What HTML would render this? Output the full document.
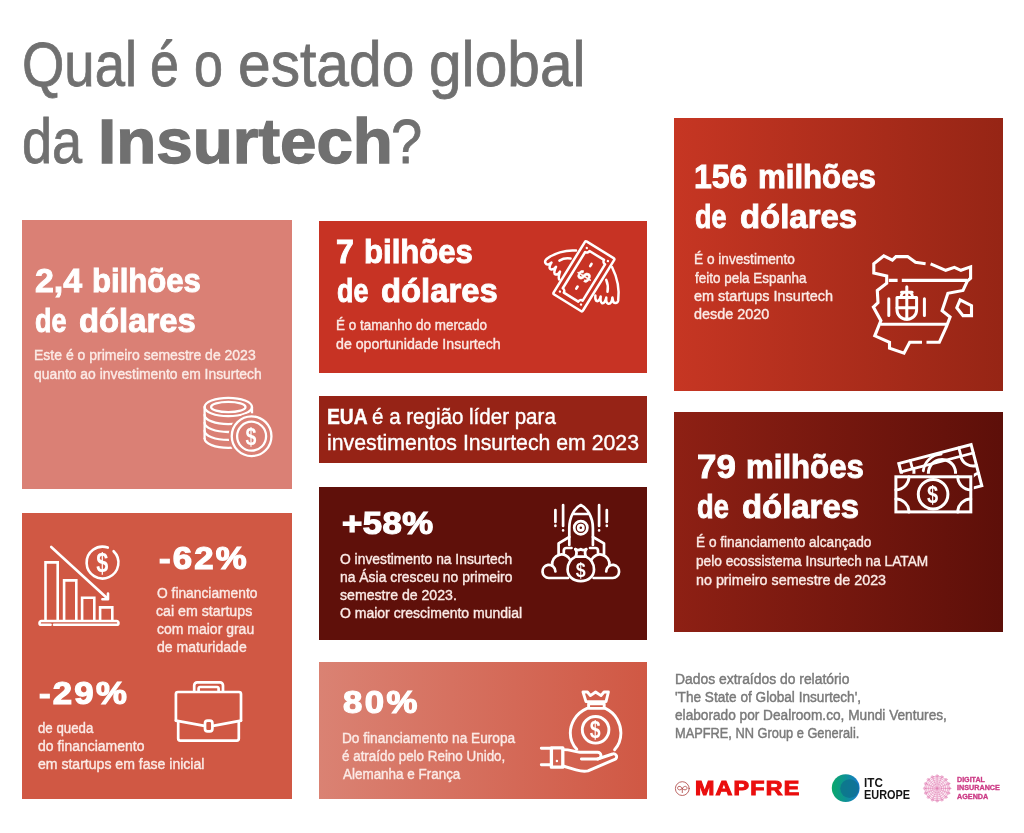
<!DOCTYPE html>
<html lang="pt"><head><meta charset="utf-8"><title>Qual é o estado global da Insurtech?</title>
<style>
html,body{margin:0;padding:0}
body{width:1024px;height:833px;position:relative;overflow:hidden;background:#fff;font-family:"Liberation Sans",sans-serif}
.bx{position:absolute}
.x{position:absolute;white-space:pre;line-height:1;transform-origin:0 0;font-weight:400}
.b{font-weight:700}
.t{color:#707070}
.w{color:#fff;-webkit-text-stroke:0.4px #fff}
.s{color:#fbeae6}
.f{color:#7b7b7b}
.m{color:#ea0e0e;-webkit-text-stroke:1px #ea0e0e}
.k{color:#151515}
.p{color:#cc3a85;-webkit-text-stroke:0.3px #cc3a85}
.h{color:#fff;-webkit-text-stroke:0.9px #fff}
.pc{color:#fff;-webkit-text-stroke:1.2px #fff}
.s{-webkit-text-stroke:0.4px #fbeae6}
.f{-webkit-text-stroke:0.45px #787878}
.t{-webkit-text-stroke:0.8px #707070}
.t.b{-webkit-text-stroke:1.3px #707070}
svg.ic{position:absolute;left:0;top:0}
</style></head><body>
<div class="bx" style="left:21.5px;top:220px;width:270px;height:269px;background:#da8075"></div>
<div class="bx" style="left:318.5px;top:220.5px;width:328.5px;height:152.25px;background:#c73324"></div>
<div class="bx" style="left:674.25px;top:118px;width:328.75px;height:273px;background:linear-gradient(90deg,#c63623,#962515)"></div>
<div class="bx" style="left:318.5px;top:396.25px;width:328.5px;height:66.75px;background:#962316"></div>
<div class="bx" style="left:674.25px;top:412px;width:328.75px;height:220.25px;background:linear-gradient(90deg,#8e2014,#5d0f09)"></div>
<div class="bx" style="left:318.5px;top:486.5px;width:328.5px;height:153.75px;background:#5f100a"></div>
<div class="bx" style="left:21.5px;top:513px;width:270px;height:285.5px;background:#d05844"></div>
<div class="bx" style="left:318.5px;top:662px;width:328.5px;height:137px;background:linear-gradient(90deg,#da8273,#d05844)"></div>
<svg class="ic" width="1024" height="833" viewBox="0 0 1024 833" fill="none" stroke="#fff" stroke-linecap="round" stroke-linejoin="round" font-family="Liberation Sans, sans-serif">
<defs>
<clipPath id="cpCoin"><path clip-rule="evenodd" d="M190 380H300V480H190Z M274.6 436.2A23 23 0 1 0 228.6 436.2A23 23 0 1 0 274.6 436.2Z"/></clipPath>
<clipPath id="cpBill"><path clip-rule="evenodd" d="M880 425H1000V530H880Z M893 473.8H973.8V514.9H893Z"/></clipPath>
<linearGradient id="gITC" x1="0" y1="0" x2="1" y2="0"><stop offset="0" stop-color="#0aa86a"/><stop offset="0.55" stop-color="#0f8f9a"/><stop offset="1" stop-color="#1777cf"/></linearGradient>
</defs>

<!-- coin stack -->
<g stroke-width="2.3">
<g clip-path="url(#cpCoin)">
<ellipse cx="228.3" cy="407" rx="23.7" ry="9.2"/>
<ellipse cx="228.3" cy="407" rx="17.2" ry="5.1"/>
<path d="M204.6 407V438.6M252 407V438.6"/>
<path d="M204.6 414.9A23.7 9.2 0 0 0 252 414.9M204.6 422.8A23.7 9.2 0 0 0 252 422.8M204.6 430.7A23.7 9.2 0 0 0 252 430.7M204.6 438.6A23.7 9.2 0 0 0 252 438.6"/>
</g>
<circle cx="251.6" cy="436.2" r="19.85"/>
<circle cx="251.6" cy="436.2" r="14.5"/>
</g>
<text transform="translate(250.9 444.6) scale(0.8 1)" font-size="24.5" font-weight="700" text-anchor="middle" fill="#fff" stroke="none">$</text>

<!-- flying money -->
<g stroke-width="2.5">
<g transform="translate(583.9 276.3) rotate(31.7)">
<rect x="-17.2" y="-31.1" width="34.4" height="62.2" rx="1.5"/>
<path d="M-8.5 -24.5H8.5A3.2 3.2 0 0 0 11.7 -21.3V21.3A3.2 3.2 0 0 0 8.5 24.5H-8.5A3.2 3.2 0 0 0 -11.7 21.3V-21.3A3.2 3.2 0 0 0 -8.5 -24.5Z"/>
<path d="M0 -14.5V-12M0 12V14.5" stroke-width="2.6"/>
<g fill="#fff" stroke="none"><circle cx="-12.4" cy="-25.6" r="1.2"/><circle cx="12.4" cy="-25.6" r="1.2"/><circle cx="-12.4" cy="25.6" r="1.2"/><circle cx="12.4" cy="25.6" r="1.2"/></g>
<text transform="rotate(-90) translate(0 6.4)" font-size="18.5" font-weight="700" text-anchor="middle" fill="#fff" stroke="#fff" stroke-width="0.4">$</text>
</g>
<path d="M576 250.6C566 249.5 553 253.5 546.3 259.3C543.8 261.8 545.8 265.6 549 264.2L551.5 262.6C549.3 265.6 548.6 269 551.4 269.5C553.5 269.6 555 268.2 556 266.8C554.4 270.5 553.3 274 555.8 274.6C557.8 274.8 559.3 273 560 271.6C559 274.8 558 278 559.2 279.4"/>
<path d="M570.6 258.6C567 258 562.5 258.8 559.4 260.6"/>
<path d="M612 267C617 277 619.5 290 618.2 300.5C617.5 303.8 613.6 304 613 300.8L612.4 297.4C612.2 301 610.8 304.4 608 303.6C606.2 302.8 606 300.4 606.3 297.6C605.6 301 604 304 601.8 303C600.3 302 600.4 299.4 600.7 296.5C600 299.6 598.4 301.8 596.4 300.9C595 299.8 595.2 297.4 595.4 295.4"/>
<path d="M606.2 279.8C607.8 283.5 608.2 288 607.5 291.8"/>
</g>

<!-- spain -->
<g stroke-width="3.1" stroke-linejoin="miter" stroke-linecap="butt">
<path d="M925.6 263.8L915.5 262.3L907.6 256.6H896L892.4 260.2L883.8 255.9L873.8 263.8V273.1L886.7 276V283.2L877.3 290.4L878 302.7L873.4 307L880.9 320.7L874.8 335.8L889.5 342.3V348.1L904 353.1L909.7 342.3H922"/>
<path d="M930.6 263.8L945.7 270.3L954.4 267.4L960.9 270.3L970.6 266.9V278.2L967.3 281.1L963 290.4L947.9 293.3L942.1 310.6L950.1 317.1L946.5 326.5L939.3 342.3H926.5"/>
<path d="M888.8 280.4H897.6M901.8 280.4H967"/>
<path d="M880.4 324.3H947"/>
<path d="M960.1 299.8L971.5 305.6V315.6H963L956.8 307.7Z"/>
</g>
<g stroke-width="3" stroke-linecap="round">
<path d="M888.8 298.8V315.4M924.4 298.8V315.4"/>
<path d="M897 297.4H916.6V310A9.8 9.3 0 0 1 897 310Z"/>
<path d="M906.8 286.8V319.2M897 307.8H916.6M901 297.2C901 290 912.6 290 912.6 297.2M901.5 292.2H912.1"/>
</g>

<!-- bills -->
<g stroke-width="3" stroke-linejoin="miter">
<g clip-path="url(#cpBill)">
<g transform="translate(940.3 474.6) rotate(-14.6)">
<rect x="-37.35" y="-21.25" width="74.7" height="42.5"/>
<path d="M-37.35 -12.6H37.35M-25.5 -21.25V-12.6M24.7 -21.25V-12.6" stroke-width="2.8"/>
<circle cx="2" cy="-1" r="13.6"/>
<path d="M-15.5 -8A19 19 0 0 1 6 -19.6" stroke-width="2.8"/>
<path d="M24.35 -12.6A13 13 0 0 0 37.35 0.4M37.35 8.25A13 13 0 0 0 24.35 21.25M-24.35 -12.6A13 13 0 0 1 -37.35 0.4"/>
</g>
</g>
<rect x="895.9" y="476.8" width="74.9" height="35.1"/>
<circle cx="933.1" cy="494.2" r="14.8"/>
<path d="M908.9 476.8A13 13 0 0 1 895.9 489.8M957.8 476.8A13 13 0 0 0 970.8 489.8M970.8 498.9A13 13 0 0 0 957.8 511.9M895.9 498.9A13 13 0 0 1 908.9 511.9"/>
</g>
<text transform="translate(932.6 502.8) scale(0.82 1)" font-size="24.5" font-weight="700" text-anchor="middle" fill="#fff" stroke="none">$</text>

<!-- rocket -->
<g stroke-width="2.7">
<path d="M569.3 545V528C569.3 517 574.5 508 580.8 505C587.1 508 592.9 517 592.9 528V545"/>
<path d="M573.6 514H588"/>
<circle cx="580.8" cy="527.7" r="6.6"/><circle cx="580.8" cy="527.7" r="2.6"/>
<path d="M569.3 537L558.6 543.4V554.5M592.9 537L604 543.4V554.5"/>
<path d="M563.8 553V550.5A2.6 2.6 0 0 1 566.4 548H571.5M598 553V550.5A2.6 2.6 0 0 0 595.4 548H590"/>
<path d="M555.4 510V522M563.1 505V526M599.1 505V526M606.8 510V522"/>
<path d="M555.4 525.6V525.9M563.1 530.2V530.5M599.1 530.2V530.5M606.8 525.6V525.9" stroke-width="2.6"/>
<!-- clouds -->
<path d="M568 578H548.8A6.6 6.6 0 0 1 548 564.9A6.6 6.6 0 0 1 555.4 571.4"/>
<path d="M552.2 565.3A9.6 9.6 0 0 1 570.5 560.2"/>
<path d="M593.6 578H612.8A6.6 6.6 0 0 0 613.6 564.9A6.6 6.6 0 0 0 606.2 571.4"/>
<path d="M609.4 565.3A9.6 9.6 0 0 0 591.1 560.2"/>
<!-- bag -->
<path d="M575.6 556.6C569.5 559.6 567.6 565.5 567.6 569.5C567.6 576 573 581.2 580.8 581.2C588.6 581.2 594 576 594 569.5C594 565.5 592.1 559.6 586 556.6"/>
<path d="M575.4 549.2C576.5 550.8 577 553.5 575.6 556.6H586C584.6 553.5 585.1 550.8 586.2 549.2"/>
<path d="M575.4 549.2C577 550.4 579 550.4 580.8 549.2C582.6 550.4 584.6 550.4 586.2 549.2"/>
</g>
<text transform="translate(580.6 576.6) scale(0.85 1)" font-size="21" font-weight="700" text-anchor="middle" fill="#fff" stroke="none">$</text>

<!-- hand + bag -->
<g stroke-width="2.9">
<path d="M587 708.4C575 713.6 570.3 724.5 570.3 733C570.3 739.5 572.6 745 576.8 749.2"/>
<path d="M605.4 708.4C616.5 713.6 620.9 724.5 620.9 733C620.9 740 618.5 745.4 614.6 749.8"/>
<rect x="588.6" y="703.8" width="15.6" height="4.6"/>
<path d="M586 701.6L583 692H587.4L590.4 695.6L595.6 692L601 695.6L604 692H608.4L606 701.6Z"/>
<circle cx="595.6" cy="729.8" r="13.3"/>
<path d="M541.3 748.2H551M541.3 764.8H551"/>
<rect x="551.4" y="747.8" width="11.4" height="19.4" stroke-width="3.3"/>
<circle cx="556.9" cy="761" r="1.2" fill="#fff" stroke="none"/>
<path d="M563 749.6C570 749.6 574 751.4 580 752.2H597.6A3.4 3.4 0 0 1 597.6 759H581.4"/>
<path d="M597.6 759L612.6 754A2.9 2.9 0 0 1 614.8 759.4L588 770.8C584 771.8 580 771 576 769.8L563 766"/>
</g>
<text transform="translate(595.3 738) scale(0.85 1)" font-size="23" font-weight="700" text-anchor="middle" fill="#fff" stroke="none">$</text>

<!-- chart -->
<g stroke-width="2.6">
<path d="M54 624.8H116.6A1.9 1.9 0 0 0 116.6 621H41.4A1.9 1.9 0 0 0 41.4 624.8H50.6"/>
<path d="M45.5 620V562.4H57.7V620M64.1 620V580.4H76.3V620M82.1 620V597.8H94.3V620M100.1 620V607.4H112.3V620" stroke-linejoin="miter"/>
<path d="M51.2 547L108 599M108 593.6V599.2H102.4"/>
<path d="M113.6 551.2A15.9 15.9 0 1 1 107.8 547.6"/>
</g>
<text transform="translate(102.2 572.4) scale(0.76 1)" font-size="28.5" font-weight="700" text-anchor="middle" fill="#fff" stroke="none">$</text>

<!-- briefcase -->
<g stroke-width="2.7">
<path d="M175.9 720.6V694A2 2 0 0 1 177.9 692H239A2 2 0 0 1 241 694V720.6"/>
<path d="M175.9 720.6L204.6 725.8M213 725.8L241 720.6"/>
<path d="M178.2 721.6V738.6A2 2 0 0 0 180.2 740.6H236.8A2 2 0 0 0 238.8 738.6V721.6"/>
<rect x="205" y="720.6" width="7.4" height="10.8" rx="2.6"/>
<path d="M194.2 691.6V685.4A3 3 0 0 1 197.2 682.4H220A3 3 0 0 1 223 685.4V691.6"/>
<path d="M198.6 691.6V688.4A1.4 1.4 0 0 1 200 687H217.2A1.4 1.4 0 0 1 218.6 688.4V691.6"/>
</g>

<!-- MAPFRE mark -->
<g stroke="#b04a48" stroke-width="0.85">
<circle cx="682.3" cy="788.6" r="6.9"/>
<path d="M682.3 792.6V788.4M682.3 788.4C680.6 785.2 677.2 786 677.6 788.4C678 790.4 680.8 790.4 682.3 788.4C683.8 790.4 686.6 790.4 687 788.4C687.4 786 684 785.2 682.3 788.4"/>
</g>
<!-- ITC -->
<circle cx="845.7" cy="788.1" r="13.9" fill="url(#gITC)" stroke="none"/>
<circle cx="849.6" cy="788.6" r="9.4" fill="#0e6f8c" fill-opacity="0.75" stroke="none"/>
<!-- DIA -->
<g stroke="#e27fb4" stroke-width="0.55">
<circle cx="937.1" cy="788.4" r="12.4" fill="#d6408f" fill-opacity="0.10"/>
<circle cx="937.1" cy="788.4" r="8.6"/><circle cx="937.1" cy="788.4" r="4.6"/>
<path d="M949.5 788.4L924.7 788.4M948.6 793.1L925.6 783.7M945.9 797.2L928.3 779.6M941.8 799.9L932.4 776.9M937.1 800.8L937.1 776.0M932.4 799.9L941.8 776.9M928.3 797.2L945.9 779.6M925.6 793.1L948.6 783.7"/>
<circle cx="949.7" cy="788.4" r="1.1"/><circle cx="948.7" cy="793.2" r="1.1"/><circle cx="946.0" cy="797.3" r="1.1"/><circle cx="941.9" cy="800.0" r="1.1"/><circle cx="937.1" cy="801.0" r="1.1"/><circle cx="932.3" cy="800.0" r="1.1"/><circle cx="928.2" cy="797.3" r="1.1"/><circle cx="925.5" cy="793.2" r="1.1"/><circle cx="924.5" cy="788.4" r="1.1"/><circle cx="925.5" cy="783.6" r="1.1"/><circle cx="928.2" cy="779.5" r="1.1"/><circle cx="932.3" cy="776.8" r="1.1"/><circle cx="937.1" cy="775.8" r="1.1"/><circle cx="941.9" cy="776.8" r="1.1"/><circle cx="946.0" cy="779.5" r="1.1"/><circle cx="948.7" cy="783.6" r="1.1"/>
<path d="M943.7 788.4L943.2 790.9L941.8 793.1L939.6 794.5L937.1 795.0L934.6 794.5L932.4 793.1L931.0 790.9L930.5 788.4L931.0 785.9L932.4 783.7L934.6 782.3L937.1 781.8L939.6 782.3L941.8 783.7L943.2 785.9ZM947.5 790.5L945.9 794.3L943.0 797.2L939.2 798.8L935.0 798.8L931.2 797.2L928.3 794.3L926.7 790.5L926.7 786.3L928.3 782.5L931.2 779.6L935.0 778.0L939.2 778.0L943.0 779.6L945.9 782.5L947.5 786.3Z"/>
</g>
</svg>

<span class="x t" style="left:21.83px;top:34.05px;font-size:62.32px;transform:scaleX(0.8742)">Qual</span>
<span class="x t" style="left:150.43px;top:34.05px;font-size:62.32px;transform:scaleX(0.8356)">é</span>
<span class="x t" style="left:194.33px;top:34.05px;font-size:62.32px;transform:scaleX(0.8356)">o</span>
<span class="x t" style="left:238.05px;top:34.05px;font-size:62.32px;transform:scaleX(0.9426)">estado</span>
<span class="x t" style="left:429.35px;top:34.05px;font-size:62.32px;transform:scaleX(0.9412)">global</span>
<span class="x t" style="left:21.74px;top:110.85px;font-size:62.32px;transform:scaleX(0.8683)">da</span>
<span class="x t b" style="left:97.53px;top:110.11px;font-size:63.19px;transform:scaleX(1.0368)">Insurtech</span>
<span class="x t" style="left:390.86px;top:110.85px;font-size:62.32px;transform:scaleX(0.8993)">?</span>
<span class="x h b" style="left:34.73px;top:264.77px;font-size:32.46px;transform:scaleX(1.0445)">2,4</span>
<span class="x h b" style="left:91.81px;top:264.77px;font-size:32.46px;transform:scaleX(0.9585)">bilhões</span>
<span class="x h b" style="left:34.84px;top:304.77px;font-size:32.46px;transform:scaleX(0.8320)">de</span>
<span class="x h b" style="left:79.04px;top:304.77px;font-size:32.46px;transform:scaleX(1.0105)">dólares</span>
<span class="x h b" style="left:336.46px;top:235.52px;font-size:32.46px;transform:scaleX(0.9882)">7</span>
<span class="x h b" style="left:363.71px;top:235.52px;font-size:32.46px;transform:scaleX(0.9585)">bilhões</span>
<span class="x h b" style="left:336.74px;top:274.77px;font-size:32.46px;transform:scaleX(0.8293)">de</span>
<span class="x h b" style="left:380.94px;top:274.77px;font-size:32.46px;transform:scaleX(1.0105)">dólares</span>
<span class="x h b" style="left:693.87px;top:161.27px;font-size:32.46px;transform:scaleX(0.9865)">156</span>
<span class="x h b" style="left:757.81px;top:161.27px;font-size:32.46px;transform:scaleX(0.9608)">milhões</span>
<span class="x h b" style="left:695.34px;top:200.52px;font-size:32.46px;transform:scaleX(0.8320)">de</span>
<span class="x h b" style="left:739.54px;top:200.52px;font-size:32.46px;transform:scaleX(1.0140)">dólares</span>
<span class="x h b" style="left:696.81px;top:450.82px;font-size:32.46px;transform:scaleX(1.0745)">79</span>
<span class="x h b" style="left:746.11px;top:450.82px;font-size:32.46px;transform:scaleX(0.9608)">milhões</span>
<span class="x h b" style="left:696.94px;top:490.52px;font-size:32.46px;transform:scaleX(0.8401)">de</span>
<span class="x h b" style="left:741.54px;top:490.52px;font-size:32.46px;transform:scaleX(1.0132)">dólares</span>
<span class="x pc b" style="left:341.55px;top:507.75px;font-size:31.01px;letter-spacing:0.39px;transform:scaleX(1.1200)">+58%</span>
<span class="x pc b" style="left:343.05px;top:686.75px;font-size:31.01px;letter-spacing:2.21px;transform:scaleX(1.1200)">80%</span>
<span class="x pc b" style="left:158.55px;top:542.50px;font-size:31.01px;letter-spacing:1.94px;transform:scaleX(1.1200)">-62%</span>
<span class="x pc b" style="left:39.05px;top:678.25px;font-size:31.01px;letter-spacing:2.01px;transform:scaleX(1.1200)">-29%</span>
<span class="x s" style="left:33.75px;top:348.36px;font-size:14.93px;transform:scaleX(0.9378)">Este é o primeiro semestre de 2023</span>
<span class="x s" style="left:33.76px;top:367.11px;font-size:14.93px;transform:scaleX(0.9306)">quanto ao investimento em Insurtech</span>
<span class="x s" style="left:336.28px;top:318.36px;font-size:14.93px;transform:scaleX(0.9014)">É o tamanho do mercado</span>
<span class="x s" style="left:336.24px;top:337.11px;font-size:14.93px;transform:scaleX(0.9495)">de oportunidade Insurtech</span>
<span class="x s" style="left:694.27px;top:252.36px;font-size:14.93px;transform:scaleX(0.9141)">É o investimento</span>
<span class="x s" style="left:695.18px;top:270.61px;font-size:14.93px;transform:scaleX(0.9015)">feito pela Espanha</span>
<span class="x s" style="left:694.22px;top:289.11px;font-size:14.93px;transform:scaleX(0.9691)">em startups Insurtech</span>
<span class="x s" style="left:694.23px;top:306.86px;font-size:14.93px;transform:scaleX(0.9653)">desde 2020</span>
<span class="x s" style="left:696.27px;top:535.36px;font-size:14.93px;transform:scaleX(0.9152)">É o financiamento alcançado</span>
<span class="x s" style="left:696.27px;top:553.86px;font-size:14.93px;transform:scaleX(0.9169)">pelo ecossistema Insurtech na LATAM</span>
<span class="x s" style="left:696.23px;top:572.61px;font-size:14.93px;transform:scaleX(0.9587)">no primeiro semestre de 2023</span>
<span class="x s" style="left:340.26px;top:551.61px;font-size:14.93px;transform:scaleX(0.9273)">O investimento na Insurtech</span>
<span class="x s" style="left:340.25px;top:570.11px;font-size:14.93px;transform:scaleX(0.9324)">na Ásia cresceu no primeiro</span>
<span class="x s" style="left:340.24px;top:587.86px;font-size:14.93px;transform:scaleX(0.9452)">semestre de 2023.</span>
<span class="x s" style="left:340.25px;top:606.36px;font-size:14.93px;transform:scaleX(0.9381)">O maior crescimento mundial</span>
<span class="x s" style="left:342.02px;top:731.11px;font-size:14.93px;transform:scaleX(0.9156)">Do financiamento na Europa</span>
<span class="x s" style="left:342.03px;top:749.36px;font-size:14.93px;transform:scaleX(0.8988)">é atraído pelo Reino Unido,</span>
<span class="x s" style="left:342.93px;top:767.36px;font-size:14.93px;transform:scaleX(0.9011)">Alemanha e França</span>
<span class="x s" style="left:156.51px;top:586.11px;font-size:14.93px;transform:scaleX(0.9241)">O financiamento</span>
<span class="x s" style="left:156.49px;top:603.61px;font-size:14.93px;transform:scaleX(0.9512)">cai em startups</span>
<span class="x s" style="left:156.50px;top:622.36px;font-size:14.93px;transform:scaleX(0.9375)">com maior grau</span>
<span class="x s" style="left:156.50px;top:640.36px;font-size:14.93px;transform:scaleX(0.9401)">de maturidade</span>
<span class="x s" style="left:37.54px;top:721.11px;font-size:14.93px;transform:scaleX(0.8876)">de queda</span>
<span class="x s" style="left:37.50px;top:739.11px;font-size:14.93px;transform:scaleX(0.9364)">do financiamento</span>
<span class="x s" style="left:37.50px;top:757.36px;font-size:14.93px;transform:scaleX(0.9421)">em startups em fase inicial</span>
<span class="x w b" style="left:327.30px;top:405.55px;font-size:22.03px;transform:scaleX(0.8767)">EUA</span>
<span class="x w" style="left:372.05px;top:405.55px;font-size:22.03px;transform:scaleX(0.9328)">é a região líder para</span>
<span class="x w" style="left:327.23px;top:432.15px;font-size:22.03px;transform:scaleX(0.9658)">investimentos Insurtech em 2023</span>
<span class="x f" style="left:674.58px;top:671.66px;font-size:14.93px;transform:scaleX(0.9305)">Dados extraídos do relatório</span>
<span class="x f" style="left:674.59px;top:689.86px;font-size:14.93px;transform:scaleX(0.9123)">'The State of Global Insurtech',</span>
<span class="x f" style="left:674.59px;top:707.96px;font-size:14.93px;transform:scaleX(0.9156)">elaborado por Dealroom.co, Mundi Ventures,</span>
<span class="x f" style="left:674.63px;top:726.46px;font-size:14.93px;transform:scaleX(0.8583)">MAPFRE, NN Group e Generali.</span>
<span class="x m b" style="left:695.00px;top:779.46px;font-size:19.42px;letter-spacing:1.00px;transform:scaleX(1.2000)">MAPFRE</span>
<span class="x k b" style="left:864.07px;top:776.53px;font-size:12.61px;transform:scaleX(0.9263)">ITC</span>
<span class="x k b" style="left:864.13px;top:788.63px;font-size:12.61px;transform:scaleX(0.8654)">EUROPE</span>
<span class="x p b" style="left:957.06px;top:776.55px;font-size:6.67px;transform:scaleX(1.0684)">DIGITAL</span>
<span class="x p b" style="left:957.06px;top:784.95px;font-size:6.67px;transform:scaleX(1.0840)">INSURANCE</span>
<span class="x p b" style="left:957.06px;top:793.55px;font-size:6.67px;transform:scaleX(1.0848)">AGENDA</span>
</body></html>
